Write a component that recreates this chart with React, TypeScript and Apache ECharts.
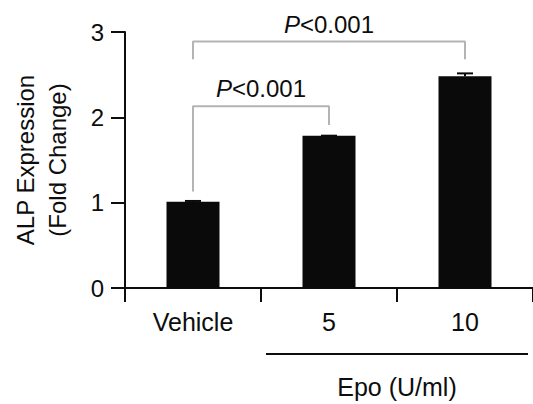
import React, { useEffect, useRef } from "react";
import * as echarts from "echarts";

const categories = ["Vehicle", "5", "10"];
const foldChange = [1.01, 1.785, 2.48];
const errUpper = [0.01, 0.0, 0.035];
const yTicks = [0, 1, 2, 3];

// significance brackets in (category index, value) space
const bracketLow = [[0, 1.13], [0, 2.13], [1, 2.13], [1, 1.91]];
const bracketHigh = [[0, 2.68], [0, 2.89], [2, 2.89], [2, 2.68]];
const pLabels = [
  { x: 0.5, y: 2.13, text: "P<0.001", dist: 6 },
  { x: 1.0, y: 2.89, text: "P<0.001", dist: 5 },
];
const groupLabel = "Epo (U/ml)";

const FONT = "'Liberation Sans', Arial, Helvetica, sans-serif";
const INK = "#0d0d0d";
const GREY = "#b4b4b4";

export default function App() {
  const ref = useRef<HTMLDivElement>(null);
  useEffect(() => {
    const el = ref.current;
    if (!el) return;
    const chart = echarts.init(el, null, { renderer: "svg" });
    chart.setOption({
      animation: false,
      textStyle: { fontFamily: FONT, color: INK },
      grid: { left: 125, right: 0, top: 32, bottom: 116, containLabel: false },
      xAxis: [
        {
          type: "category",
          data: categories,
          boundaryGap: true,
          axisLine: { onZero: false, lineStyle: { color: INK, width: 2 } },
          axisTick: { show: true, length: 14, interval: 0, lineStyle: { color: INK, width: 2 } },
          axisLabel: { fontSize: 25, color: INK, margin: 21, fontFamily: FONT, interval: 0 },
        },
        { type: "value", min: -0.5, max: 2.5, show: false },
      ],
      yAxis: {
        type: "value",
        min: 0,
        max: 3,
        interval: 1,
        name: "ALP Expression\n(Fold Change)",
        nameLocation: "middle",
        nameGap: 52,
        nameRotate: 90,
        nameTextStyle: { fontSize: 24, color: INK, fontFamily: FONT, lineHeight: 32, align: "center" },
        splitLine: { show: false },
        axisLine: { show: true, onZero: false, lineStyle: { color: INK, width: 2 } },
        axisTick: { show: true, length: 14, lineStyle: { color: INK, width: 2 } },
        axisLabel: {
          fontSize: 24,
          color: INK,
          margin: 21,
          fontFamily: FONT,
          formatter: (v: number) => (yTicks.includes(v) ? String(v) : ""),
        },
      },
      series: [
        {
          type: "bar",
          data: foldChange,
          barWidth: 53,
          itemStyle: { color: "#0a0a0a" },
          z: 2,
        },
        {
          type: "custom",
          z: 3,
          data: foldChange.map((v, i) => [i, v, v + errUpper[i]]),
          renderItem: (params: any, api: any) => {
            const lo = api.coord([api.value(0), api.value(1)]);
            const hi = api.coord([api.value(0), api.value(2)]);
            const hw = 8;
            return {
              type: "group",
              children: [
                { type: "line", shape: { x1: lo[0], y1: lo[1], x2: hi[0], y2: hi[1] }, style: { stroke: "#0a0a0a", lineWidth: 2 } },
                { type: "line", shape: { x1: hi[0] - hw, y1: hi[1], x2: hi[0] + hw, y2: hi[1] }, style: { stroke: "#0a0a0a", lineWidth: 2 } },
              ],
            };
          },
        },
        {
          type: "line",
          xAxisIndex: 1,
          data: bracketLow,
          symbol: "none",
          lineStyle: { color: GREY, width: 2 },
          silent: true,
        },
        {
          type: "line",
          xAxisIndex: 1,
          data: bracketHigh,
          symbol: "none",
          lineStyle: { color: GREY, width: 2 },
          silent: true,
        },
        {
          type: "scatter",
          xAxisIndex: 1,
          clip: false,
          symbolSize: 0,
          itemStyle: { color: INK, opacity: 1 },
          data: pLabels.map((p) => ({
            value: [p.x, p.y],
            label: {
              show: true,
              position: "top",
              distance: p.dist,
              color: INK,
              opacity: 1,
              textBorderWidth: 0,
              formatter: "{i|P}{n|" + p.text.slice(1) + "}",
              rich: {
                i: { fontStyle: "italic", fontSize: 24, color: INK, fontFamily: FONT },
                n: { fontSize: 24, color: INK, fontFamily: FONT },
              },
            },
          })),
        },
      ],
      graphic: [
        {
          type: "line",
          shape: { x1: 266, y1: 354, x2: 528, y2: 354 },
          style: { stroke: INK, lineWidth: 2 },
        },
        {
          type: "text",
          x: 397,
          y: 387,
          style: {
            text: groupLabel,
            fontSize: 25,
            fontFamily: FONT,
            fill: INK,
            align: "center",
            verticalAlign: "middle",
          },
        },
      ],
    });
    return () => chart.dispose();
  }, []);
  return (
    <div
      ref={ref}
      style={{ position: "fixed", left: 0, top: 0, width: 533, height: 404, background: "#fff" }}
    />
  );
}
